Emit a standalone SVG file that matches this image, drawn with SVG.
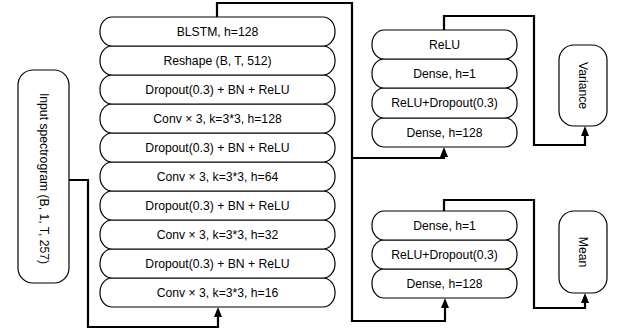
<svg xmlns="http://www.w3.org/2000/svg" width="624" height="336" viewBox="0 0 624 336">
<style>
.n{fill:#fff;stroke:#000;stroke-width:1.2}
.t{font-family:"Liberation Sans",Arial,sans-serif;font-size:12.2px;fill:#000;text-anchor:middle;dominant-baseline:central}
.c{fill:none;stroke:#000;stroke-width:2.2}
</style>
<defs>
<marker id="a" markerWidth="10" markerHeight="11" refX="4" refY="10" orient="0" markerUnits="userSpaceOnUse" overflow="visible">
<path d="M0,10 L4,0 L8,10 Z" fill="#000"/>
</marker>
</defs>
<rect width="624" height="336" fill="#fff"/>
<g id="connectors">
<path class="c" d="M69,180 H88 V327 H218 V317" marker-end="url(#a)"/>
<path class="c" d="M217,17 V3 H352 V321 H445 V308" marker-end="url(#a)"/>
<path class="c" d="M352,158 H444 V157" marker-end="url(#a)"/>
<path class="c" d="M444,30 V16 H534 V145 H585 V136" marker-end="url(#a)"/>
<path class="c" d="M444,211 V200 H534 V308 H585 V303" marker-end="url(#a)"/>
</g>
<g id="input">
<rect class="n" x="18" y="70" width="51" height="213" rx="15" ry="15"/>
<text class="t" transform="translate(43.5,178.5) rotate(90)">Input spectrogram (B, 1, T, 257)</text>
</g>
<g id="conv16"><rect class="n" x="100" y="278" width="235" height="29" rx="12" ry="14"/><text class="t" x="217.5" y="292.5">Conv × 3, k=3*3, h=16</text></g>
<g id="drop4"><rect class="n" x="100" y="249" width="235" height="29" rx="12" ry="14"/><text class="t" x="217.5" y="263.5">Dropout(0.3) + BN + ReLU</text></g>
<g id="conv32"><rect class="n" x="100" y="220" width="235" height="29" rx="12" ry="14"/><text class="t" x="217.5" y="234.5">Conv × 3, k=3*3, h=32</text></g>
<g id="drop3"><rect class="n" x="100" y="191" width="235" height="29" rx="12" ry="14"/><text class="t" x="217.5" y="205.5">Dropout(0.3) + BN + ReLU</text></g>
<g id="conv64"><rect class="n" x="100" y="162" width="235" height="29" rx="12" ry="14"/><text class="t" x="217.5" y="176.5">Conv × 3, k=3*3, h=64</text></g>
<g id="drop2"><rect class="n" x="100" y="133" width="235" height="29" rx="12" ry="14"/><text class="t" x="217.5" y="147.5">Dropout(0.3) + BN + ReLU</text></g>
<g id="conv128"><rect class="n" x="100" y="104" width="235" height="29" rx="12" ry="14"/><text class="t" x="217.5" y="118.5">Conv × 3, k=3*3, h=128</text></g>
<g id="drop1"><rect class="n" x="100" y="75" width="235" height="29" rx="12" ry="14"/><text class="t" x="217.5" y="89.5">Dropout(0.3) + BN + ReLU</text></g>
<g id="reshape"><rect class="n" x="100" y="46" width="235" height="29" rx="12" ry="14"/><text class="t" x="217.5" y="60.5">Reshape (B, T, 512)</text></g>
<g id="blstm"><rect class="n" x="100" y="17" width="235" height="29" rx="12" ry="14"/><text class="t" x="217.5" y="31.5">BLSTM, h=128</text></g>

<g id="v-dense128"><rect class="n" x="372" y="118" width="145" height="29" rx="12" ry="14"/><text class="t" x="444.5" y="132.5">Dense, h=128</text></g>
<g id="v-reludrop"><rect class="n" x="372" y="88" width="145" height="30" rx="12" ry="14"/><text class="t" x="444.5" y="103">ReLU+Dropout(0.3)</text></g>
<g id="v-dense1"><rect class="n" x="372" y="59" width="145" height="29" rx="12" ry="14"/><text class="t" x="444.5" y="73.5">Dense, h=1</text></g>
<g id="v-relu"><rect class="n" x="372" y="30" width="145" height="29" rx="12" ry="14"/><text class="t" x="444.5" y="44.5">ReLU</text></g>

<g id="m-dense128"><rect class="n" x="372" y="269" width="145" height="29" rx="12" ry="14"/><text class="t" x="444.5" y="283.5">Dense, h=128</text></g>
<g id="m-reludrop"><rect class="n" x="372" y="240" width="145" height="29" rx="12" ry="14"/><text class="t" x="444.5" y="254.5">ReLU+Dropout(0.3)</text></g>
<g id="m-dense1"><rect class="n" x="372" y="211" width="145" height="29" rx="12" ry="14"/><text class="t" x="444.5" y="225.5">Dense, h=1</text></g>

<g id="variance"><rect class="n" x="559" y="45" width="48" height="81" rx="15" ry="15"/><text class="t" transform="translate(583,85.5) rotate(90)">Variance</text></g>
<g id="mean"><rect class="n" x="559" y="211" width="48" height="82" rx="15" ry="15"/><text class="t" transform="translate(583,252) rotate(90)">Mean</text></g>
</svg>
